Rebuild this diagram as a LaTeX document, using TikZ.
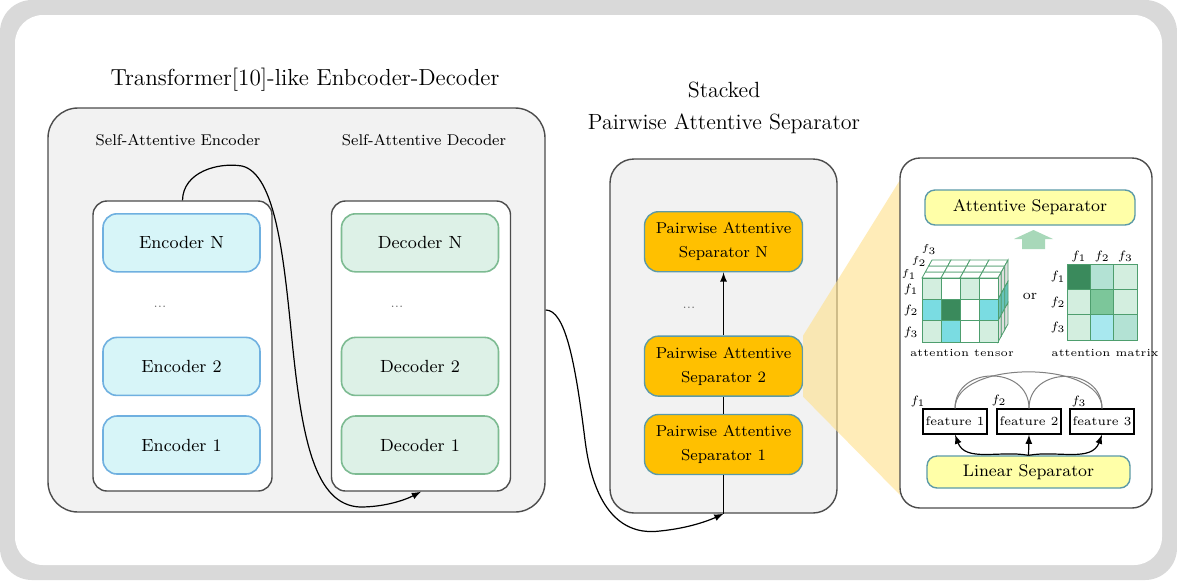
\documentclass[tikz,border=0pt]{standalone}
\usepackage{amsmath,amssymb}
\usepackage{tikz}
\usetikzlibrary{calc, arrows, shapes, positioning}

\definecolor{frame}{HTML}{D9D9D9}
\definecolor{panelfill}{HTML}{F2F2F2}
\definecolor{encfill}{HTML}{D7F5F8}
\definecolor{encline}{HTML}{6FB0E0}
\definecolor{decfill}{HTML}{DDF1E7}
\definecolor{decline}{HTML}{7DBB92}
\definecolor{sepfill}{HTML}{FFC000}
\definecolor{sepline}{HTML}{5C9AA8}
\definecolor{linfill}{HTML}{FFFFA8}
\definecolor{wedge}{HTML}{FFE08A}
\definecolor{upgreen}{HTML}{A8D8B9}
\definecolor{gridline}{HTML}{4E9E6E}
\definecolor{gdark}{HTML}{3A8A5C}
\definecolor{gmid}{HTML}{7CC69A}
\definecolor{glight}{HTML}{D3EEDF}
\definecolor{gteal}{HTML}{B3E2D4}
\definecolor{cyanc}{HTML}{7ADCE2}
\definecolor{cyanl}{HTML}{A8E8EF}

\begin{document}
\begin{tikzpicture}[x=0.5pt, y=-0.5pt, font=\fontsize{8.8}{10.5}\selectfont,
	panel/.style={draw=black!70, fill=panelfill, line width=0.7pt, rounded corners=15pt},
	stack/.style={draw=black!70, fill=white, line width=0.7pt, rounded corners=7pt, minimum width=89.5pt, minimum height=145pt},
	encoder/.style={draw=encline, fill=encfill, line width=0.8pt, rounded corners=7pt, minimum width=78.5pt, minimum height=29pt},
	decoder/.style={encoder, draw=decline, fill=decfill},
	separator/.style={draw=sepline, fill=sepfill, line width=0.7pt, rounded corners=7pt, minimum width=79pt, minimum height=30pt, align=center, font=\fontsize{7.9}{12}\selectfont},
	yellowbox/.style={draw=sepline, fill=linfill, line width=0.7pt, rounded corners=5pt, font=\fontsize{8.4}{10}\selectfont},
	feat/.style={draw=black, fill=white, line width=0.6pt, minimum width=32pt, minimum height=12.5pt, inner sep=1pt, font=\fontsize{6.2}{8}\selectfont},
	flab/.style={inner sep=0pt, font=\fontsize{6}{7}\selectfont},
	cell/.style={draw=gridline, line width=0.4pt},
	title/.style={font=\fontsize{11}{16}\selectfont, align=center},
	subtitle/.style={font=\fontsize{7.8}{10}\selectfont},
	dots/.style={text=black!60, font=\fontsize{6}{7}\selectfont}]
\fill[frame, rounded corners=16pt] (0,0) rectangle (1177,580);
\fill[white, rounded corners=14pt] (15,15) rectangle (1162,565);
\useasboundingbox (0,0) rectangle (1177,580);

% encoder-decoder
\node[title, font=\fontsize{11.6}{16}\selectfont] (trtitle) at (305,80) {Transformer[10]-like Enbcoder-Decoder};
\node[panel, minimum width=248.5pt, minimum height=202pt] (trbox) at (296.5,310) {};
\node[subtitle] (encttl) at (178,140) {Self-Attentive Encoder};
\node[subtitle] (decttl) at (424,140) {Self-Attentive Decoder};
\node[stack] (encstack) at (182.5,346) {};
\node[stack] (decstack) at (421,346) {};
\node[encoder] (enc1) at (181.5,445) {Encoder 1};
\node[encoder, above=9.5pt of enc1] (enc2) {Encoder 2};
\node[encoder, above=32pt of enc2] (encN) {Encoder N};
\node[dots] (encdots) at (160,307) {...};
\node[decoder] (dec1) at (420,445) {Decoder 1};
\node[decoder, above=9.5pt of dec1] (dec2) {Decoder 2};
\node[decoder, above=32pt of dec2] (decN) {Decoder N};
\node[dots] (decdots) at (397,307) {...};
\draw[-latex, line width=0.6pt] (encstack.north) .. controls (183,172) and (218,162) .. (242,166)
	.. controls (276,174) and (284,260) .. (292,340) .. controls (302,440) and (315,505) .. (360,507)
	.. controls (385,507) and (405,500) .. (decstack.south);

% stacked separator
\node[title] (sttitle) at (724,108) {Stacked\\Pairwise Attentive Separator};
\node[panel, rounded corners=12pt, minimum width=113.5pt, minimum height=177pt] (stackbox) at (723.5,336) {};
\node[separator] (sep1) at (723.5,444.5) {Pairwise Attentive\\Separator 1};
\node[separator, above=8.5pt of sep1] (sep2) {Pairwise Attentive\\Separator 2};
\node[separator, above=31.5pt of sep2] (sepN) {Pairwise Attentive\\Separator N};
\node[dots] (sepdots) at (689,308) {...};
\draw[-latex, line width=0.6pt] (trbox.east) .. controls (565,310) and (575,360) .. (585,440)
	.. controls (595,520) and (630,535) .. (660,531) .. controls (690,528) and (710,520) .. (stackbox.south);
\draw[line width=0.6pt] (stackbox.south) -- (sep1);
\draw[line width=0.6pt] (sep1) -- (sep2);
\draw[-latex, line width=0.6pt] (sep2) -- (sepN);

% zoomed separator
\coordinate (wtop) at (900,180);
\coordinate (wbot) at (900,495);
\fill[wedge, opacity=0.6] (sep2.north east) -- (wtop) -- (wbot) -- (sep2.south east) -- cycle;
\node[draw=black!70, fill=white, line width=0.7pt, rounded corners=10pt, minimum width=126pt, minimum height=175pt] (rpanel) at (1026,333) {};
\node[yellowbox, minimum width=105pt, minimum height=17.5pt] (attsep) at (1030,207.5) {Attentive Separator};
\fill[upgreen] (1022,249) -- (1022,239) -- (1014,239) -- (1033.5,230) -- (1053,239) -- (1045,239) -- (1045,249) -- cycle;

% attention tensor
\foreach \k in {0,1,2}
	\foreach \i in {0,...,3}
		\filldraw[cell, fill=white] (922+19*\i+3.33*\k, 278-6*\k) -- ++(19,0) -- ++(3.33,-6) -- ++(-19,0) -- cycle;
\foreach \k in {0,1,2}
	\foreach \j/\c in {0/gray!25, 1/cyanc!70!gdark, 2/gray!25}
		\filldraw[cell, fill=\c] (998+3.33*\k, 278+21.33*\j-6*\k) -- ++(3.33,-6) -- ++(0,21.33) -- ++(-3.33,6) -- cycle;
\foreach \c [count=\n from 0] in {glight,white,glight,white, cyanc,gdark,white,cyanc, glight,cyanc,white,glight}
{
	\pgfmathtruncatemacro\i{mod(\n,4)}
	\pgfmathtruncatemacro\j{div(\n,4)}
	\filldraw[cell, fill=\c] (922+19*\i, 278+21.33*\j) rectangle ++(19,21.33);
}
\foreach \k in {1,2,3}
{
	\node[flab] (tr\k) at (911,268+21.33*\k) {$f_{\k}$};
	\node[flab, font=\fontsize{5}{6}\selectfont] (td\k) at (899+10*\k,287-12.5*\k) {$f_{\k}$};
}
\node[flab, font=\fontsize{5.4}{7}\selectfont] (tensorlab) at (962,353) {attention tensor};
\node[flab, font=\fontsize{7}{8}\selectfont] (orlab) at (1030,296) {or};

% attention matrix
\foreach \c [count=\n from 0] in {gdark,gteal,glight, glight,gmid,glight, glight,cyanl,gteal}
{
	\pgfmathtruncatemacro\i{mod(\n,3)}
	\pgfmathtruncatemacro\j{div(\n,3)}
	\filldraw[cell, fill=\c] (1067+23.33*\i, 264+25.33*\j) rectangle ++(23.33,25.33);
}
\foreach \k in {1,2,3}
{
	\node[flab] (mc\k) at (1055.5+23.33*\k,256) {$f_{\k}$};
	\node[flab] (mr\k) at (1058,251.5+25.33*\k) {$f_{\k}$};
}
\node[flab, font=\fontsize{5.4}{7}\selectfont] (matrixlab) at (1105,353) {attention matrix};

% linear separator
\node[feat] (feat1) at (955,421.5) {feature 1};
\node[feat] (feat2) at (1029,421.5) {feature 2};
\node[feat] (feat3) at (1102,421.5) {feature 3};
\node[flab] (fl1) at (918,401) {$f_1$};
\node[flab] (fl2) at (999,400) {$f_2$};
\node[flab] (fl3) at (1079,401) {$f_3$};
\node[yellowbox, minimum width=101.5pt, minimum height=16pt] (linsep) at (1028.5,472) {Linear Separator};
\draw[gray, line width=0.5pt] (feat1.north) to[out=90, in=90, looseness=1.5] (feat2.north);
\draw[gray, line width=0.5pt] (feat2.north) to[out=90, in=90, looseness=1.5] (feat3.north);
\draw[gray, line width=0.5pt] (feat1.north) to[out=90, in=90, looseness=0.85] (feat3.north);
\draw[-latex, line width=0.6pt] (linsep.north) to[out=170, in=-70] (feat1.south);
\draw[-latex, line width=0.6pt] (linsep.north) -- (feat2.south);
\draw[-latex, line width=0.6pt] (linsep.north) to[out=10, in=-110] (feat3.south);
\end{tikzpicture}
\end{document}
